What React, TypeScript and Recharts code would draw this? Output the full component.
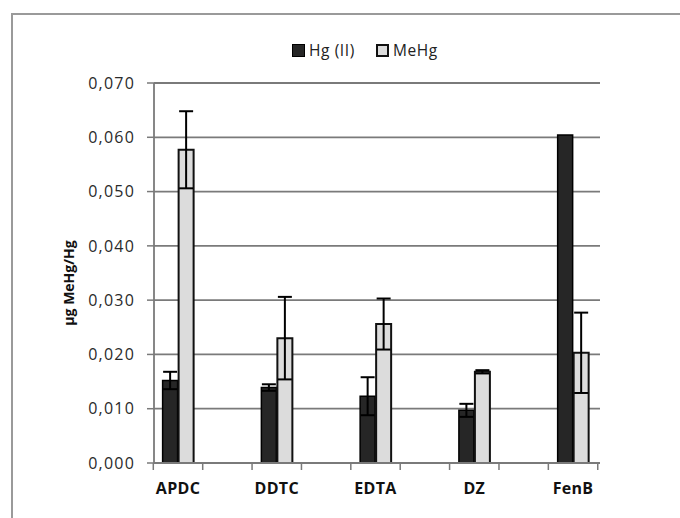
import React from "react";
import {
  BarChart,
  Bar,
  XAxis,
  YAxis,
  CartesianGrid,
  ErrorBar,
  Legend,
  Label,
} from "recharts";

const categories = ["APDC", "DDTC", "EDTA", "DZ", "FenB"];
const hgValues = [0.0152, 0.0139, 0.0123, 0.0097, 0.0604];
const hgErrors = [0.0016, 0.0006, 0.0035, 0.0012, null];
const mehgValues = [0.0577, 0.023, 0.0256, 0.0168, 0.0203];
const mehgErrors = [0.0071, 0.0076, 0.0047, 0.0003, 0.0074];
const yTicks = [0, 0.01, 0.02, 0.03, 0.04, 0.05, 0.06, 0.07];

const data = categories.map((name, i) => ({
  name,
  idx: i,
  hg: hgValues[i],
  hgErr: hgErrors[i],
  mehg: mehgValues[i],
  mehgErr: mehgErrors[i],
}));

const FONT = "'Open Sans', sans-serif";

function formatY(v: number) {
  return v.toFixed(3).replace(".", ",");
}

// category label plus the two little ticks between categories
const XTick = ({ x, y, payload }: any) => {
  const half = 24.7;
  return (
    <g>
      <line x1={x - half} x2={x - half} y1={y} y2={y + 7} stroke="#7a7a7a" strokeWidth={1.5} />
      <line x1={x + half} x2={x + half} y1={y} y2={y + 7} stroke="#7a7a7a" strokeWidth={1.5} />
      <text
        x={x}
        y={y + 31}
        textAnchor="middle"
        fontFamily={FONT}
        fontWeight="bold"
        fontSize={16}
        letterSpacing={0.3}
        fill="#111"
      >
        {categories[payload.value]}
      </text>
    </g>
  );
};

const LegendBox = () => (
  <div
    style={{
      height: 20,
      display: "flex",
      alignItems: "center",
      paddingLeft: 292,
      fontFamily: FONT,
      fontSize: 15.5,
      letterSpacing: 0.6,
      color: "#222",
    }}
  >
    <span style={{ width: 11, height: 11, background: "#262626", border: "1.5px solid #000", display: "inline-block" }} />
    <span style={{ marginLeft: 4 }}>Hg (II)</span>
    <span
      style={{
        width: 9,
        height: 9,
        background: "#dcdcdc",
        border: "2px solid #111",
        display: "inline-block",
        marginLeft: 21,
      }}
    />
    <span style={{ marginLeft: 4 }}>MeHg</span>
  </div>
);

const YLabel = ({ viewBox }: any) => {
  const cx = viewBox.x + 68;
  const cy = viewBox.y + viewBox.height / 2 + 10;
  return (
    <text
      x={cx}
      y={cy}
      transform={`rotate(-90, ${cx}, ${cy})`}
      textAnchor="middle"
      dominantBaseline="central"
      fontFamily={FONT}
      fontWeight="bold"
      fontSize={14}
      fill="#111"
    >
      µg MeHg/Hg
    </text>
  );
};

export default function App() {
  return (
    <div style={{ position: "absolute", left: 0, top: 0, width: 680, height: 518, background: "#fff" }}>
      <div
        style={{
          position: "absolute",
          left: 11,
          top: 13,
          width: 669,
          height: 505,
          borderTop: "2px solid #9a9a9a",
          borderLeft: "2px solid #9a9a9a",
        }}
      />
      <div style={{ position: "absolute", left: 0, top: 0 }}>
        <BarChart
          width={680}
          height={518}
          data={data}
          margin={{ top: 63, right: 80, bottom: 25, left: 0 }}
          barSize={15}
          barGap={1}
        >
          <CartesianGrid vertical={false} stroke="#7a7a7a" strokeWidth={1.8} />
          <Legend verticalAlign="top" content={<LegendBox />} wrapperStyle={{ top: 40, left: 0, width: 680 }} />
          <XAxis
            type="number"
            dataKey="idx"
            domain={[-0.243, 4.273]}
            ticks={[0, 1, 2, 3, 4]}
            interval={0}
            allowDataOverflow
            height={30}
            tickSize={0}
            tickMargin={0}
            tickLine={false}
            axisLine={{ stroke: "#7a7a7a", strokeWidth: 1.8 }}
            tick={<XTick />}
          />
          <YAxis
            width={154}
            domain={[0, 0.07]}
            ticks={yTicks}
            interval={0}
            tickFormatter={formatY}
            tickSize={7}
            tickMargin={12}
            axisLine={{ stroke: "#7a7a7a", strokeWidth: 1.8 }}
            tickLine={{ stroke: "#7a7a7a", strokeWidth: 1.5 }}
            tick={{ fill: "#2a2a2a", fontSize: 16, fontFamily: FONT, letterSpacing: 1.2 }}
          >
            <Label content={<YLabel />} />
          </YAxis>
          <Bar dataKey="hg" name="Hg (II)" fill="#262626" stroke="#000" strokeWidth={1.5} isAnimationActive={false}>
            <ErrorBar dataKey="hgErr" width={7} stroke="#000" strokeWidth={2} />
          </Bar>
          <Bar dataKey="mehg" name="MeHg" fill="#dcdcdc" stroke="#111" strokeWidth={2} isAnimationActive={false}>
            <ErrorBar dataKey="mehgErr" width={7} stroke="#000" strokeWidth={2} />
          </Bar>
        </BarChart>
      </div>
    </div>
  );
}
